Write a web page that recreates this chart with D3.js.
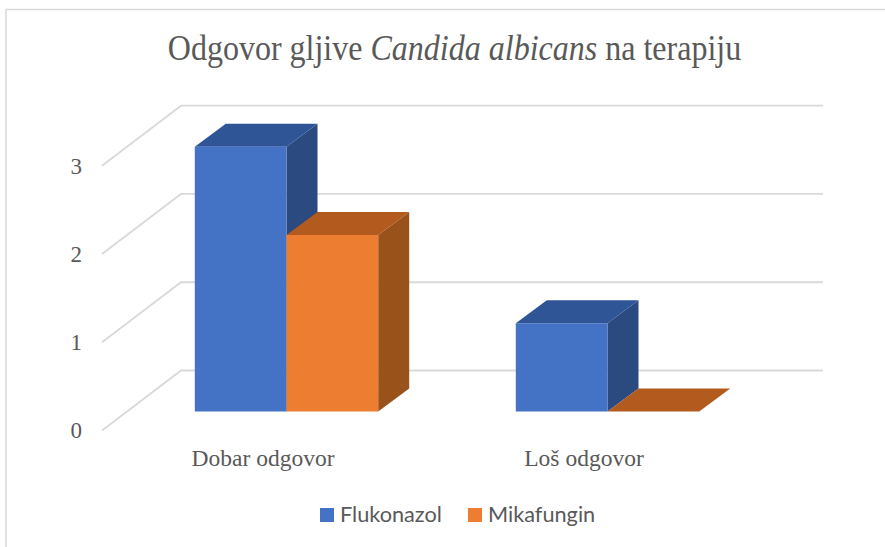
<!DOCTYPE html>
<html><head><meta charset="utf-8">
<script src="https://cdnjs.cloudflare.com/ajax/libs/d3/7.8.5/d3.min.js"></script>
<style>html,body{margin:0;padding:0;background:#fff}svg{display:block}</style></head>
<body><svg id="c" width="885" height="547"></svg>
<script>
const categories = ["Dobar odgovor", "Loš odgovor"];
const seriesNames = ["Flukonazol", "Mikafungin"];
const flukonazol = [3, 1];
const mikafungin = [2, 0];
const yTicks = [0, 1, 2, 3];
const titleParts = [["Odgovor gljive ", false], ["Candida albicans", true], [" na terapiju", false]];
const frontColors = ["#4472c4", "#ed7d31"];
const topColors = ["#2f5597", "#b35a1f"];
const sideColors = ["#2a4a80", "#9a521b"];

const svg = d3.select("#c");
const grey = "#595959", grid = "#d9d9d9";
const serif = "'Liberation Serif','Times New Roman',serif";

// frame
svg.append("path").attr("d", "M6,547V9.5H885").attr("fill", "none").attr("stroke", grid).attr("stroke-width", 1.5);

// title
const title = svg.append("text").attr("transform", "translate(454.5,60) scale(0.915,1)")
  .attr("text-anchor", "middle").attr("font-family", serif).attr("font-size", 35).attr("fill", grey);
titleParts.forEach(p => title.append("tspan").attr("font-style", p[1] ? "italic" : "normal").attr("xml:space","preserve").text(p[0]));

// scales: y on the front plane of the walls
const y = d3.scaleLinear().domain([0, 3]).range([430.5, 165.7]);
const wallDx = 79, wallDy = -60;      // floor depth
const barPlaneDy = -19;               // bar front plane relative to axis plane
const depthDx = 31, depthDy = -23;    // bar depth
const x0 = d3.scaleBand().domain(categories).range([126, 768]);
const barW = 91.7;
const x1 = d3.scaleBand().domain(seriesNames).range([-barW, barW]);

// gridlines
const g = svg.append("g").attr("fill", "none").attr("stroke", grid).attr("stroke-width", 1.8);
yTicks.forEach(t => {
  g.append("path").attr("d", d3.line()([[102, y(t)], [102 + wallDx, y(t) + wallDy], [823, y(t) + wallDy]]));
});

// axis labels
const axis = svg.append("g").attr("transform", "translate(85,0)")
  .call(d3.axisLeft(y).tickValues(yTicks).tickSize(0).tickFormat(d3.format("d")));
axis.select(".domain").remove();
axis.selectAll("text").attr("font-family", serif).attr("font-size", 23).attr("fill", grey);

// bars
const valuesBySeries = [flukonazol, mikafungin];
seriesNames.forEach((s, si) => {
  categories.forEach((c, ci) => {
    const v = valuesBySeries[si][ci];
    const cx = x0(c) + x0.bandwidth() / 2;
    const l = cx + x1(s), r = l + barW;
    const b = y(0) + barPlaneDy, t = y(v) + barPlaneDy;
    const poly = pts => svg.append("polygon").attr("points", pts.join(" "));
    if (v > 0) {
      poly([[r, b], [r + depthDx, b + depthDy], [r + depthDx, t + depthDy], [r, t]]).attr("fill", sideColors[si]);
    }
    poly([[l, t], [l + depthDx, t + depthDy], [r + depthDx, t + depthDy], [r, t]]).attr("fill", topColors[si]);
    if (v > 0) {
      svg.append("rect").attr("x", l).attr("y", t).attr("width", barW).attr("height", b - t).attr("fill", frontColors[si]);
    }
  });
});

// category labels
svg.selectAll(".cat").data(categories).join("text").attr("class", "cat")
  .attr("x", c => x0(c) + x0.bandwidth() / 2 - 23.5).attr("y", 466)
  .attr("text-anchor", "middle").attr("font-family", serif).attr("font-size", 23.5).attr("fill", grey)
  .text(c => c);

// legend
const legendX = [320, 468];
seriesNames.forEach((s, i) => {
  svg.append("rect").attr("x", legendX[i]).attr("y", 508).attr("width", 14).attr("height", 14).attr("fill", frontColors[i]);
  svg.append("text").attr("x", legendX[i] + 20).attr("y", 522).attr("font-family", "Lato,'Open Sans',sans-serif")
    .attr("font-size", 21.7).attr("fill", grey).text(s);
});
</script></body></html>
